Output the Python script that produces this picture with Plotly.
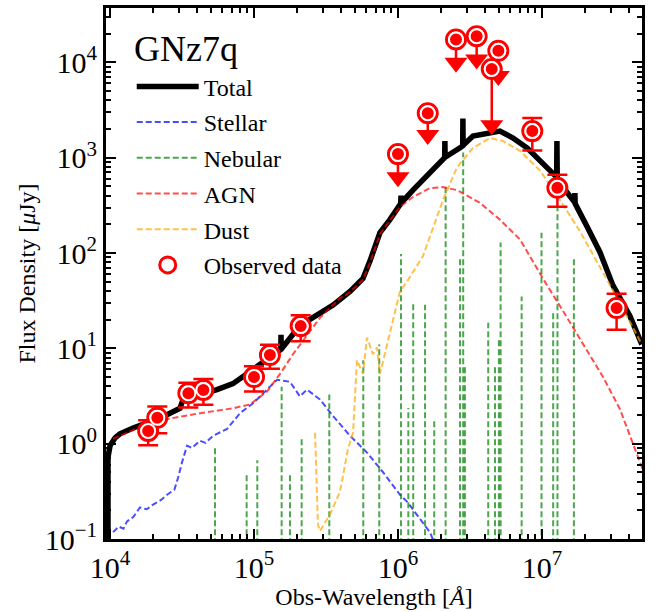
import numpy as np
import plotly.graph_objects as go

# ---------------- data ----------------
# Total model
total_wave = [9.68e3, 9.68e3, 1.0e4, 1.084e4, 1.172e4, 1.445e4, 2.223e4, 3.062e4, 3.214e4, 4.217e4,
              5.534e4, 7.145e4, 8.933e4, 1.23e5, 1.517e5, 1.535e5, 1.54e5, 1.545e5, 2.084e5, 2.742e5,
              3.54e5, 4.645e5, 5.715e5, 6.397e5, 7.499e5, 8.79e5, 1.045e6, 1.05e6, 1.055e6, 1.271e6,
              1.667e6, 2.11e6, 2.118e6, 2.126e6, 2.698e6, 2.815e6, 2.825e6, 2.835e6, 3.319e6, 4.15e6,
              5.105e6, 6.295e6, 7.87e6, 9.683e6, 1.265e7, 1.271e7, 1.277e7, 1.334e7, 1.641e7, 1.688e7,
              1.694e7, 1.70e7, 2.056e7, 2.529e7, 3.112e7, 4.083e7, 4.943e7]
total_flux = [0.001, 0.718, 0.953, 1.153, 1.268, 1.462, 1.854, 2.35, 2.91, 3.27,
              3.69, 4.26, 5.40, 7.52, 9.53, 9.7, 13.9, 9.8, 17.3, 22.4,
              28.4, 39.6, 54.0, 82.8, 164, 224, 330, 400, 335, 457,
              684, 1000, 1496, 1010, 1268, 1330, 2582, 1350, 1687, 1811,
              1897, 1607, 1268, 931, 625, 1496, 615, 540, 345, 340,
              426, 330, 190, 102, 45.7, 21.9, 11.0]

# Stellar model
stellar_wave = [1.05e4, 1.15e4, 1.24e4, 1.312e4, 1.45e4, 1.614e4, 1.80e4, 1.991e4, 2.25e4, 2.489e4,
                2.80e4, 2.965e4, 3.162e4, 3.428e4, 3.70e4, 4.217e4, 4.60e4, 5.188e4, 6.501e4, 8.0e4,
                9.84e4, 1.23e5, 1.445e5, 1.778e5, 1.991e5, 2.084e5, 2.333e5, 2.871e5, 3.54e5, 4.645e5,
                6.095e5, 7.87e5, 1.033e6, 1.156e6, 1.667e6, 1.778e6]
stellar_flux = [0.118, 0.135, 0.128, 0.153, 0.170, 0.214, 0.205, 0.230, 0.255, 0.291,
                0.330, 0.436, 0.637, 0.953, 0.90, 1.074, 1.02, 1.208, 1.429, 2.09,
                2.65, 3.69, 4.68, 4.46, 3.52, 3.13, 3.69, 2.91, 1.95, 1.21,
                0.807, 0.502, 0.291, 0.247, 0.118, 0.093]

# Nebular emission lines (wavelength, peak flux)
neb_wave = [5.36e4, 8.89e4, 1.054e5, 1.556e5, 1.778e5, 2.143e5, 3.334e5, 5.741e5, 7.413e5, 1.05e6,
            1.18e6, 1.276e6, 1.542e6, 1.786e6, 2.143e6, 2.698e6, 2.838e6, 2.917e6, 4.236e6, 4.721e6,
            5.023e6, 5.164e6, 7.228e6, 9.93e6, 1.197e7, 1.282e7, 1.667e7]
neb_flux = [0.91, 0.468, 0.668, 3.96, 0.491, 1.13, 3.27, 7.52, 11.0, 97.7,
            2.37, 29.8, 28.6, 1.73, 494, 91.0, 1135, 6.37, 18.5, 6.37,
            12.5, 129, 34.9, 163, 24.5, 308, 86.7]
neb_floor = 0.01

# AGN model
agn_wave = [1.05e4, 1.694e4, 2.489e4, 4.217e4, 7.145e4, 9.376e4, 1.23e5, 1.517e5, 1.866e5, 2.333e5,
            2.871e5, 3.954e5, 4.645e5, 5.71e5, 6.4e5, 7.5e5, 1.033e6, 1.271e6, 1.667e6, 2.056e6,
            2.57e6, 3.707e6, 5.105e6, 7.031e6, 1.016e7, 1.4e7, 1.928e7, 2.655e7, 3.483e7, 4.797e7, 5.0e7]
agn_flux = [1.127, 1.535, 1.811, 2.089, 2.35, 2.58, 3.52, 5.40, 8.67, 13.9,
            20.9, 33.6, 38.9, 52.5, 79.4, 158, 305.5, 387, 479, 491,
            457, 336, 224, 139, 54, 24.7, 11.0, 5.02, 2.30, 0.637, 0.54]

# Dust model
dust_wave = [2.655e5, 2.78e5, 2.871e5, 3.373e5, 3.954e5, 4.498e5, 4.875e5, 5.188e5, 5.715e5, 6.095e5,
             6.699e5, 7.145e5, 7.499e5, 8.395e5, 9.226e5, 1.033e6, 1.156e6, 1.493e6, 2.056e6, 2.57e6,
             3.319e6, 4.355e6, 5.358e6, 7.031e6, 9.683e6, 1.334e7, 1.837e7, 2.529e7, 3.483e7, 4.943e7]
dust_flux = [1.30, 0.143, 0.121, 0.181, 0.313, 0.887, 1.30, 7.52, 5.40, 12.97,
             8.67, 10.2, 5.40, 11.0, 20.9, 39.6, 50.2, 93.1, 360, 789,
             1268, 1607, 1496, 1180, 735, 360, 169, 71.8, 29.8, 11.0]

# Observed photometry (detections)
obs_wave = [1.84e4, 2.13e4, 3.50e4, 4.45e4, 1.00e5, 1.29e5, 2.11e5, 8.57e6, 1.28e7, 3.30e7]
obs_flux = [1.36, 1.87, 3.38, 3.66, 5.0, 8.5, 17.1, 1.9e3, 483, 26.5]
obs_err = [0.40, 0.58, 0.98, 1.1, 1.47, 2.4, 5.2, 710, 178, 10.8]

# Upper limits (value and arrow end)
ul_wave = [1.0e6, 1.61e6, 2.53e6, 3.52e6, 4.48e6, 4.98e6]
ul_flux = [1.09e3, 2.93e3, 1.74e4, 1.88e4, 8.5e3, 1.32e4]
ul_end = [622, 1.73e3, 9.9e3, 1.07e4, 2.19e3, 7.2e3]

x_tick_vals = [1e4, 1e5, 1e6, 1e7]
x_tick_text = ['10<sup>4</sup>', '10<sup>5</sup>', '10<sup>6</sup>', '10<sup>7</sup>']
y_tick_vals = [0.1, 1, 10, 100, 1e3, 1e4]
y_tick_text = ['10<sup>\u22121</sup>', '10<sup>0</sup>', '10<sup>1</sup>', '10<sup>2</sup>',
               '10<sup>3</sup>', '10<sup>4</sup>']

# ---------------- figure ----------------
FONT = 'Liberation Serif'
RED = 'rgb(255,0,0)'
fig = go.Figure()

fig.add_trace(go.Scatter(x=total_wave, y=total_flux, mode='lines', name='Total', legendgroup='g1',
                         line=dict(color='black', width=5.5)))
fig.add_trace(go.Scatter(x=stellar_wave, y=stellar_flux, mode='lines', name='Stellar', legendgroup='g2',
                         line=dict(color='rgba(0,0,255,0.7)', width=2, dash='6px,3px')))

nx, ny = [], []
for w, f in zip(neb_wave, neb_flux):
    nx += [w, w, None]
    ny += [neb_floor, f, None]
fig.add_trace(go.Scatter(x=nx, y=ny, mode='lines', name='Nebular', legendgroup='g3',
                         line=dict(color='rgba(0,128,0,0.7)', width=2, dash='6px,3px')))
fig.add_trace(go.Scatter(x=agn_wave, y=agn_flux, mode='lines', name='AGN', legendgroup='g4',
                         line=dict(color='rgba(255,0,0,0.7)', width=2, dash='6px,3px')))
fig.add_trace(go.Scatter(x=dust_wave, y=dust_flux, mode='lines', name='Dust', legendgroup='g5',
                         line=dict(color='rgba(255,165,0,0.7)', width=2, dash='6px,3px')))

# upper-limit shafts
sx, sy = [], []
for w, f, e in zip(ul_wave, ul_flux, ul_end):
    sx += [w, w, None]
    sy += [f, e, None]
fig.add_trace(go.Scatter(x=sx, y=sy, mode='lines', showlegend=False,
                         line=dict(color=RED, width=2.5)))
fig.add_trace(go.Scatter(x=ul_wave, y=ul_end, mode='markers', showlegend=False,
                         marker=dict(symbol='triangle-down', size=20, color=RED, line=dict(width=0))))

# detections with error bars (legend entry)
fig.add_trace(go.Scatter(x=obs_wave, y=obs_flux, mode='markers', name='Observed data', legendgroup='g6',
                         error_y=dict(type='data', array=obs_err, color=RED, thickness=2.5, width=10),
                         marker=dict(symbol='circle-open', size=19, color=RED, line=dict(width=3, color=RED))))
fig.add_trace(go.Scatter(x=obs_wave, y=obs_flux, mode='markers', showlegend=False,
                         marker=dict(symbol='circle', size=14, color=RED, line=dict(width=2, color='white'))))
fig.add_trace(go.Scatter(x=ul_wave, y=ul_flux, mode='markers', showlegend=False,
                         marker=dict(symbol='circle-open', size=19, color=RED, line=dict(width=3, color=RED))))
fig.add_trace(go.Scatter(x=ul_wave, y=ul_flux, mode='markers', showlegend=False,
                         marker=dict(symbol='circle', size=14, color=RED, line=dict(width=2, color='white'))))

x_minor = [k * 10 ** n for n in range(3, 8) for k in range(2, 10)]
y_minor = [k * 10.0 ** n for n in range(-2, 5) for k in range(2, 10)]

axis_common = dict(type='log', tickmode='array', ticks='inside', ticklen=10, tickwidth=2,
                   tickcolor='black', showline=True, linewidth=3, linecolor='black',
                   mirror='allticks', showgrid=False, zeroline=False,
                   tickfont=dict(family=FONT, size=30, color='black'))

fig.update_xaxes(**axis_common, range=[3.972, 7.695], tickvals=x_tick_vals, ticktext=x_tick_text,
                 minor=dict(tickmode='array', tickvals=x_minor, ticks='inside', ticklen=5,
                            tickwidth=1.5, tickcolor='black', showgrid=False),
                 title=dict(text='Obs-Wavelength [<i>Å</i>]', font=dict(family=FONT, size=24, color='black'),
                            standoff=6))
fig.update_yaxes(**axis_common, range=[-1.0, 4.57], tickvals=y_tick_vals, ticktext=y_tick_text,
                 minor=dict(tickmode='array', tickvals=y_minor, ticks='inside', ticklen=5,
                            tickwidth=1.5, tickcolor='black', showgrid=False),
                 title=dict(text='Flux Density [<i>μ</i>Jy]', font=dict(family=FONT, size=24, color='black'),
                            standoff=3))

fig.add_annotation(text='GNz7q', xref='paper', yref='paper', x=0.048, y=0.922,
                   xanchor='left', yanchor='middle', showarrow=False,
                   font=dict(family=FONT, size=36, color='black'))

fig.update_layout(
    width=657, height=612,
    margin=dict(l=106, r=15, t=5, b=66),
    paper_bgcolor='white', plot_bgcolor='white',
    font=dict(family=FONT, color='black'),
    legend=dict(x=0.048, y=0.894, xanchor='left', yanchor='top', bgcolor='rgba(0,0,0,0)',
                font=dict(family=FONT, size=24, color='black'), itemwidth=62, tracegroupgap=1.5),
)

fig.write_html('out.html')
